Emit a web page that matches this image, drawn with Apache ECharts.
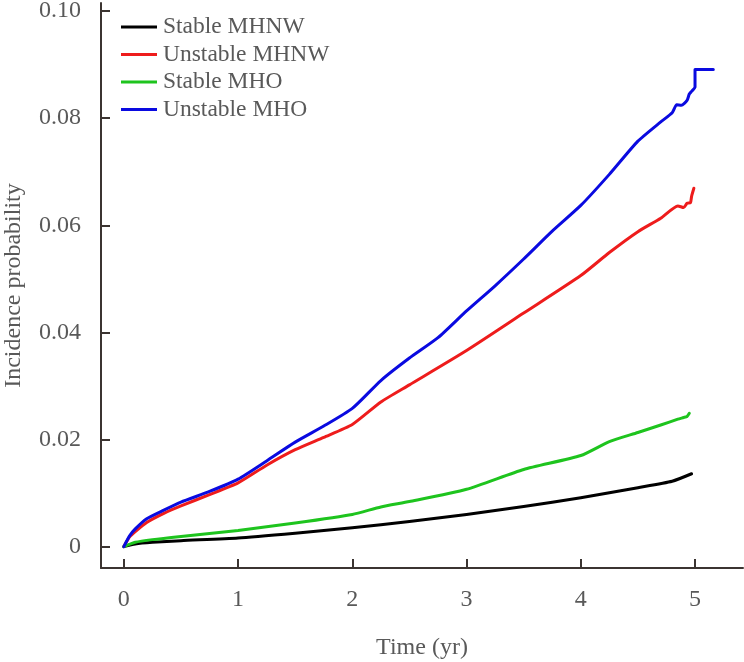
<!DOCTYPE html>
<html>
<head>
<meta charset="utf-8">
<script src="https://cdn.jsdelivr.net/npm/echarts@6/dist/echarts.min.js"></script>
<style>
  html, body { margin: 0; padding: 0; background: #fff; }
  #main { width: 744px; height: 662px; }
</style>
</head>
<body>
<div id="main"></div>
<script>
// names shown in the legend
var seriesNames = ['Stable MHNW', 'Unstable MHNW', 'Stable MHO', 'Unstable MHO'];
var xTicks = [0, 1, 2, 3, 4, 5];
var yTicks = [0, 0.02, 0.04, 0.06, 0.08, 0.10];

// Stable MHNW
var stableMhnwT = [0, 0.1, 0.25, 0.5, 1, 1.5, 2, 2.5, 3, 3.5, 4, 4.5, 4.8, 4.97];
var stableMhnwV = [0, 0.0005, 0.0008, 0.0011, 0.0016, 0.0025, 0.0035, 0.0047, 0.006, 0.0075, 0.0091, 0.011, 0.0122, 0.0136];

// Unstable MHNW
var unstableMhnwT = [0, 0.05, 0.1, 0.2, 0.35, 0.5, 0.75, 1, 1.25, 1.5, 1.75, 2, 2.25, 2.5, 3, 3.5, 4, 4.25, 4.5, 4.7, 4.85, 4.9, 4.93, 4.96, 4.97, 4.99];
var unstableMhnwV = [0, 0.0018, 0.0028, 0.0045, 0.0062, 0.0076, 0.0097, 0.0119, 0.0152, 0.0181, 0.0204, 0.0228, 0.027, 0.0302, 0.0366, 0.0436, 0.0506, 0.0549, 0.0588, 0.0613, 0.0636, 0.0633, 0.0641, 0.0642, 0.0654, 0.0669];

// Stable MHO
var stableMhoT = [0, 0.1, 0.25, 0.5, 1, 1.5, 2, 2.25, 2.5, 3, 3.5, 4, 4.25, 4.5, 4.7, 4.85, 4.9, 4.93, 4.95];
var stableMhoV = [0, 0.0008, 0.0013, 0.0019, 0.003, 0.0044, 0.006, 0.0074, 0.0084, 0.0107, 0.0144, 0.017, 0.0196, 0.0213, 0.0227, 0.0238, 0.0241, 0.0243, 0.0249];

// Unstable MHO
var unstableMhoT = [0, 0.05, 0.1, 0.2, 0.35, 0.5, 0.75, 1, 1.25, 1.5, 1.75, 2, 2.25, 2.5, 2.75, 3, 3.25, 3.5, 3.75, 4, 4.25, 4.5, 4.7, 4.8, 4.84, 4.88, 4.93, 4.95, 4.97, 5.0, 5.0, 5.16];
var unstableMhoV = [0, 0.002, 0.0033, 0.0052, 0.0068, 0.0083, 0.0103, 0.0126, 0.016, 0.0195, 0.0225, 0.0258, 0.031, 0.0352, 0.039, 0.044, 0.0487, 0.0537, 0.0589, 0.0637, 0.0695, 0.0757, 0.0793, 0.081, 0.0825, 0.0824, 0.0833, 0.0845, 0.085, 0.0858, 0.0891, 0.0891];

var colors = ['#000000', '#ee1c1c', '#1ec41e', '#0a0ae0'];
var seriesT = [stableMhnwT, unstableMhnwT, stableMhoT, unstableMhoT];
var seriesV = [stableMhnwV, unstableMhnwV, stableMhoV, unstableMhoV];

function pairs(t, v) {
  var out = [];
  for (var i = 0; i < t.length; i++) out.push([t[i], v[i]]);
  return out;
}

var font = 'Liberation Serif';
var textColor = '#595959';
var axisColor = '#3b3431';

var myChart = echarts.init(document.getElementById('main'));

var series = [];
for (var i = 0; i < seriesNames.length; i++) {
  series.push({
    name: seriesNames[i],
    type: 'line',
    data: pairs(seriesT[i], seriesV[i]),
    showSymbol: false,
    symbol: 'none',
    smooth: 0.2,
    color: colors[i],
    lineStyle: { width: 3, color: colors[i], join: 'round', cap: 'round' }
  });
}

var opt = {
  animation: false,
  backgroundColor: '#fff',
  grid: { left: 101, right: 1, top: 3, bottom: 94, containLabel: false, outerBoundsMode: 'none' },
  legend: {
    orient: 'vertical',
    left: 121,
    top: 15,
    icon: 'rect',
    itemWidth: 36,
    itemHeight: 3,
    itemGap: 3.5,
    padding: 0,
    data: seriesNames,
    textStyle: { fontFamily: font, fontSize: 23.5, color: textColor, padding: [0, 0, 0, 1] }
  },
  xAxis: {
    type: 'value',
    min: -0.2,
    max: 5.42,
    name: 'Time (yr)',
    nameLocation: 'middle',
    nameGap: 68,
    nameTextStyle: { fontFamily: font, fontSize: 24, color: textColor },
    axisLine: { show: true, onZero: false, lineStyle: { color: axisColor, width: 2 } },
    axisTick: { show: true, inside: true, length: 9, customValues: xTicks, lineStyle: { color: axisColor, width: 2 } },
    axisLabel: {
      customValues: xTicks,
      margin: 20,
      fontFamily: font, fontSize: 24, color: textColor,
      formatter: function (v) { return String(v); }
    },
    splitLine: { show: false }
  },
  yAxis: {
    type: 'value',
    min: -0.004,
    max: 0.1015,
    name: 'Incidence probability',
    nameLocation: 'middle',
    nameGap: 75,
    nameTextStyle: { fontFamily: font, fontSize: 24, color: textColor },
    axisLine: { show: true, onZero: false, lineStyle: { color: axisColor, width: 2 } },
    axisTick: { show: true, inside: true, length: 9, customValues: yTicks, lineStyle: { color: axisColor, width: 2 } },
    axisLabel: {
      customValues: yTicks,
      margin: 20,
      fontFamily: font, fontSize: 24, color: textColor,
      formatter: function (v) { return v === 0 ? '0' : v.toFixed(2); }
    },
    splitLine: { show: false }
  },
  series: series
};

myChart.setOption(opt);
</script>
</body>
</html>
